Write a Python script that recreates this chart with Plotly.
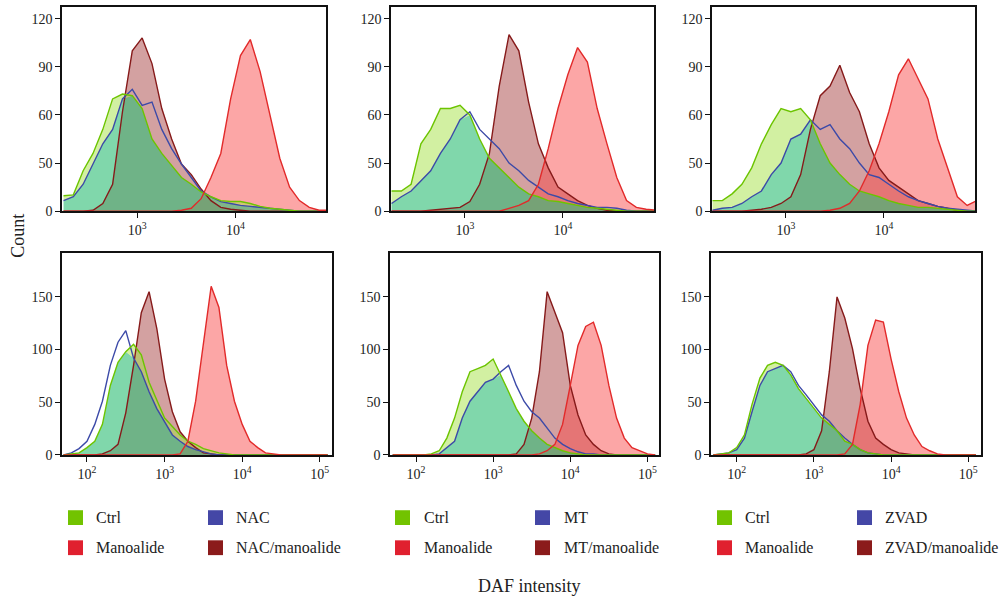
import numpy as np
import plotly.graph_objects as go

# ---------------- data ----------------
# DAF intensity bin centres (log-spaced)
TOP_BINS = [178, 224, 282, 355, 447, 562, 708, 891, 1122, 1413, 1778, 2239, 2818, 3548,
            4467, 5623, 7079, 8913, 11220, 14125, 17783, 22387, 28184, 35481, 44668,
            56234, 70795, 89125]
BOTTOM_BINS = [50, 63, 79, 100, 126, 158, 200, 251, 316, 398, 501, 631, 794, 1000, 1259,
               1585, 1995, 2512, 3162, 3981, 5012, 6310, 7943, 10000, 12589, 15849, 19953,
               25119, 31623, 39811, 50119, 63096, 79433, 100000, 125893]

# top row (counts)
CTRL_1 = [16, 17, 42, 52, 57, 70, 73, 72, 64, 55, 52, 47, 35, 28, 20, 15, 11, 10, 10, 8, 5, 3, 2, 1, 0, 0, 0, 0]
NAC_1 = [11, 15, 28, 49, 54, 57, 70, 76, 66, 68, 57, 53, 49, 35, 21, 15, 10, 8, 6, 5, 4, 3, 2, 1, 0, 0, 0, 0]
NACMAN_1 = [0, 0, 0, 1, 8, 28, 62, 100, 108, 92, 64, 55, 49, 38, 23, 11, 4, 2, 1, 0, 0, 0, 0, 0, 0, 0, 0, 0]
MAN_1 = [0, 0, 0, 0, 0, 0, 0, 0, 0, 0, 0, 0, 1, 3, 13, 35, 52, 70, 97, 107, 87, 60, 51, 25, 11, 4, 1, 1]

CTRL_2 = [21, 21, 28, 54, 57, 64, 64, 66, 60, 55, 51, 45, 35, 25, 18, 15, 11, 10, 8, 6, 4, 3, 2, 1, 0, 0, 0, 0]
MT_2 = [8, 15, 21, 32, 42, 52, 55, 59, 62, 57, 55, 53, 50, 42, 32, 25, 18, 15, 11, 8, 6, 4, 4, 3, 1, 0, 0, 0]
MTMAN_2 = [0, 0, 0, 0, 1, 2, 3, 4, 10, 28, 52, 78, 110, 100, 68, 54, 45, 25, 18, 11, 6, 3, 1, 0, 0, 0, 0, 0]
MAN_2 = [0, 0, 0, 0, 0, 0, 0, 0, 0, 0, 0, 0, 3, 6, 11, 28, 53, 64, 85, 102, 93, 64, 54, 35, 11, 4, 2, 1]

CTRL_3 = [11, 11, 18, 28, 45, 54, 58, 64, 62, 64, 59, 54, 50, 38, 28, 21, 18, 15, 11, 8, 6, 4, 4, 3, 2, 1, 0, 0]
ZVAD_3 = [1, 3, 4, 8, 15, 21, 38, 50, 55, 56, 59, 57, 58, 55, 53, 50, 38, 35, 28, 21, 15, 11, 8, 5, 3, 2, 1, 0]
ZVADMAN_3 = [0, 0, 0, 0, 1, 2, 4, 8, 15, 38, 57, 72, 78, 91, 74, 62, 54, 45, 32, 25, 18, 11, 8, 5, 3, 1, 0, 0]
MAN_3 = [0, 0, 0, 0, 0, 0, 0, 0, 0, 0, 0, 0, 1, 3, 8, 21, 42, 54, 62, 85, 95, 82, 70, 55, 45, 15, 6, 11]

# bottom row (counts)
CTRL_4 = [0, 1, 2, 7, 13, 29, 66, 88, 98, 105, 95, 69, 52, 35, 27, 19, 13, 10, 6, 4, 2, 1, 0, 0, 0, 0, 0, 0, 0, 0, 0, 0, 0, 0, 0]
NAC_4 = [0, 2, 6, 13, 29, 51, 85, 107, 118, 92, 79, 60, 44, 32, 19, 13, 8, 5, 3, 1, 0, 0, 0, 0, 0, 0, 0, 0, 0, 0, 0, 0, 0, 0, 0]
NACMAN_4 = [0, 0, 0, 0, 0, 1, 4, 10, 40, 85, 135, 155, 120, 72, 41, 22, 13, 7, 2, 1, 0, 0, 0, 0, 0, 0, 0, 0, 0, 0, 0, 0, 0, 0, 0]
MAN_4 = [0, 0, 0, 0, 0, 0, 0, 0, 0, 0, 0, 0, 0, 0, 0, 1, 13, 51, 104, 160, 140, 85, 51, 29, 13, 7, 2, 1, 0, 0, 0, 0, 0, 0, 0]

CTRL_5 = [0, 0, 0, 0, 0, 1, 4, 16, 35, 60, 79, 82, 85, 91, 76, 60, 44, 32, 23, 16, 10, 7, 4, 2, 1, 0, 0, 0, 0, 0, 0, 0, 0, 0, 0]
MT_5 = [0, 0, 0, 0, 0, 0, 1, 7, 13, 35, 51, 60, 69, 72, 79, 85, 66, 51, 41, 35, 26, 16, 10, 6, 3, 1, 1, 0, 0, 0, 0, 0, 0, 0, 0]
MTMAN_5 = [0, 0, 0, 0, 0, 0, 0, 0, 0, 0, 0, 0, 0, 0, 0, 0, 1, 10, 35, 79, 155, 135, 116, 66, 38, 19, 10, 4, 1, 0, 0, 0, 0, 0, 0]
MAN_5 = [0, 0, 0, 0, 0, 0, 0, 0, 0, 0, 0, 0, 0, 0, 0, 0, 0, 0, 0, 1, 4, 10, 29, 66, 104, 122, 126, 104, 66, 35, 16, 7, 4, 1, 0]

CTRL_6 = [0, 1, 2, 7, 19, 48, 73, 85, 88, 85, 76, 63, 54, 44, 35, 29, 23, 13, 10, 5, 2, 1, 0, 0, 0, 0, 0, 0, 0, 0, 0, 0, 0, 0, 0]
ZVAD_6 = [0, 1, 2, 5, 16, 41, 66, 79, 82, 85, 79, 66, 57, 48, 38, 32, 23, 16, 10, 5, 2, 1, 0, 0, 0, 0, 0, 0, 0, 0, 0, 0, 0, 0, 0]
ZVADMAN_6 = [0, 0, 0, 0, 0, 0, 0, 0, 0, 0, 0, 0, 1, 5, 23, 79, 150, 130, 101, 63, 32, 16, 10, 5, 2, 1, 0, 0, 0, 0, 0, 0, 0, 0, 0]
MAN_6 = [0, 0, 0, 0, 0, 0, 0, 0, 0, 0, 0, 0, 0, 0, 0, 0, 0, 1, 10, 48, 104, 128, 126, 91, 60, 35, 19, 8, 4, 1, 0, 0, 0, 0, 0]

TOP_Y_TICKS = [0, 50, 60, 90, 120]      # labels on the (non-uniform) top-row count axis
BOTTOM_Y_TICKS = [0, 50, 100, 150]
TOP_X_TICKS = [1000, 10000]
BOTTOM_X_TICKS = [100, 1000, 10000, 100000]

LEGEND_GROUPS = [
    ["Ctrl", "NAC", "Manoalide", "NAC/manoalide"],
    ["Ctrl", "MT", "Manoalide", "MT/manoalide"],
    ["Ctrl", "ZVAD", "Manoalide", "ZVAD/manoalide"],
]

# ---------------- styling ----------------
W, H = 1002, 610
FONT = "Liberation Serif"
C_CTRL, C_TREAT, C_MAN, C_COMBO = "#6cc400", "#3c4aa8", "#e22a2a", "#861a1a"
LEG_COLORS = ["#72c300", "#4447a6", "#e0202f", "#8b1b1b"]


def px(x):
    return x / W


def py(y):
    return 1 - y / H


def top_scale(v):
    # top-row count axis is drawn with evenly spaced ticks at 0, 50, 60, 90, 120
    return np.interp(np.asarray(v, float), TOP_Y_TICKS + [150], [0, 1, 2, 3, 4, 5])


def bottom_scale(v):
    return np.asarray(v, float)


PANELS = [
    dict(bins=TOP_BINS, ctrl=CTRL_1, treat=NAC_1, combo=NACMAN_1, mano=MAN_1, top=True,
         dom=((62, 326), (7, 214)), xr=[2.235, 4.92]),
    dict(bins=TOP_BINS, ctrl=CTRL_2, treat=MT_2, combo=MTMAN_2, mano=MAN_2, top=True,
         dom=((391, 654), (7, 214)), xr=[2.245, 4.93]),
    dict(bins=TOP_BINS, ctrl=CTRL_3, treat=ZVAD_3, combo=ZVADMAN_3, mano=MAN_3, top=True,
         dom=((712, 975), (7, 214)), xr=[2.245, 4.93]),
    dict(bins=BOTTOM_BINS, ctrl=CTRL_4, treat=NAC_4, combo=NACMAN_4, mano=MAN_4, top=False,
         dom=((62, 332), (256, 461)), xr=[1.678, 5.157]),
    dict(bins=BOTTOM_BINS, ctrl=CTRL_5, treat=MT_5, combo=MTMAN_5, mano=MAN_5, top=False,
         dom=((390, 659), (256, 461)), xr=[1.663, 5.15]),
    dict(bins=BOTTOM_BINS, ctrl=CTRL_6, treat=ZVAD_6, combo=ZVADMAN_6, mano=MAN_6, top=False,
         dom=((711, 981), (256, 461)), xr=[1.667, 5.165]),
]

fig = go.Figure()
layout = dict(
    width=W, height=H, margin=dict(l=0, r=0, t=0, b=0),
    paper_bgcolor="white", plot_bgcolor="white", showlegend=False,
    font=dict(family=FONT, color="#222", size=14),
)

for i, p in enumerate(PANELS, start=1):
    xa = "x" if i == 1 else f"x{i}"
    ya = "y" if i == 1 else f"y{i}"
    scale = top_scale if p["top"] else bottom_scale
    x = p["bins"]
    ctrl = scale(p["ctrl"])
    treat = scale(p["treat"])
    combo = scale(p["combo"])
    mano = scale(p["mano"])
    both = np.minimum(ctrl, treat)
    common = dict(xaxis=xa, yaxis=ya, hoverinfo="skip")

    # fills
    fig.add_trace(go.Scatter(x=x, y=combo, mode="none", fill="tozeroy",
                             fillcolor="rgba(150,30,30,0.42)", **common))
    fig.add_trace(go.Scatter(x=x, y=mano, mode="none", fill="tozeroy",
                             fillcolor="rgba(248,70,70,0.48)", **common))
    fig.add_trace(go.Scatter(x=x, y=both, mode="none", fill="tozeroy",
                             fillcolor="rgba(50,190,120,0.62)", **common))
    fig.add_trace(go.Scatter(x=x, y=ctrl, mode="none", fill="tonexty",
                             fillcolor="rgba(165,225,70,0.5)", **common))
    fig.add_trace(go.Scatter(x=x, y=both, mode="none", **common))
    fig.add_trace(go.Scatter(x=x, y=treat, mode="none", fill="tonexty",
                             fillcolor="rgba(80,70,200,0.55)", **common))
    # outlines
    fig.add_trace(go.Scatter(x=x, y=combo, mode="lines", line=dict(color=C_COMBO, width=1.4), **common))
    fig.add_trace(go.Scatter(x=x, y=treat, mode="lines", line=dict(color=C_TREAT, width=1.4), **common))
    fig.add_trace(go.Scatter(x=x, y=ctrl, mode="lines", line=dict(color=C_CTRL, width=1.4), **common))
    fig.add_trace(go.Scatter(x=x, y=mano, mode="lines", line=dict(color=C_MAN, width=1.4), **common))

    (x0, x1), (y0, y1) = p["dom"]
    xticks = TOP_X_TICKS if p["top"] else BOTTOM_X_TICKS
    if p["top"]:
        ytv = list(top_scale(TOP_Y_TICKS))
        ytt = [str(t) for t in TOP_Y_TICKS]
        yr = [0, 4.245]
    else:
        ytv = BOTTOM_Y_TICKS
        ytt = [str(t) for t in BOTTOM_Y_TICKS]
        yr = [0, 192]
    axis_common = dict(showline=True, linecolor="#111", linewidth=1.6, mirror=True,
                       ticks="outside", ticklen=5, tickwidth=1, tickcolor="#111",
                       showgrid=False, zeroline=False,
                       tickfont=dict(family=FONT, size=14, color="#222"))
    layout["xaxis" if i == 1 else f"xaxis{i}"] = dict(
        domain=[px(x0), px(x1)], anchor=ya, type="log", range=p["xr"],
        tickvals=xticks, ticktext=[f"10<sup>{int(round(np.log10(t)))}</sup>" for t in xticks],
        **axis_common)
    layout["yaxis" if i == 1 else f"yaxis{i}"] = dict(
        domain=[py(y1), py(y0)], anchor=xa, range=yr,
        tickvals=ytv, ticktext=ytt, **axis_common)

shapes = []
annotations = []
sq_lefts = [(68, 208), (395, 535), (717, 857)]
txt_lefts = [(94, 234), (422, 562), (743, 883)]
rows = [524.5, 555]
for g, names in enumerate(LEGEND_GROUPS):
    for k, name in enumerate(names):
        col = k % 2
        row = k // 2
        sx = sq_lefts[g][col]
        cy = rows[row]
        shapes.append(dict(type="rect", xref="paper", yref="paper",
                           x0=px(sx), x1=px(sx + 15), y0=py(cy + 7.5), y1=py(cy - 7.5),
                           fillcolor=LEG_COLORS[k], line=dict(width=0)))
        annotations.append(dict(text=name, xref="paper", yref="paper",
                                x=px(txt_lefts[g][col]), y=py(cy), xanchor="left", yanchor="middle",
                                showarrow=False, font=dict(family=FONT, size=16, color="#222")))

annotations.append(dict(text="Count", xref="paper", yref="paper", x=px(18), y=py(239),
                        textangle=-90, showarrow=False, xanchor="center", yanchor="middle",
                        font=dict(family=FONT, size=18, color="#222")))
annotations.append(dict(text="DAF intensity", xref="paper", yref="paper", x=px(529), y=py(594),
                        showarrow=False, xanchor="center", yanchor="middle",
                        font=dict(family=FONT, size=18, color="#222")))

layout["shapes"] = shapes
layout["annotations"] = annotations
fig.update_layout(**layout)
fig.write_html("out.html")
